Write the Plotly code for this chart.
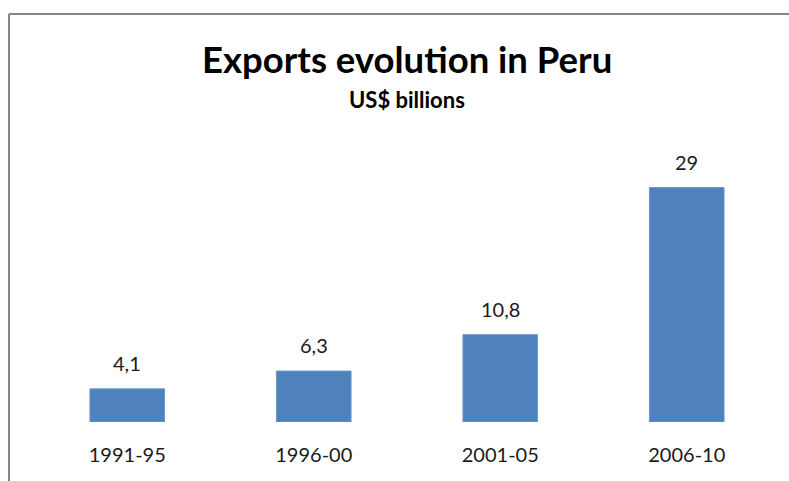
import plotly.graph_objects as go

# Exports by five-year period, US$ billions
periods = ["1991-95", "1996-00", "2001-05", "2006-10"]
exports = [4.1, 6.3, 10.8, 29]
value_labels = [f"{v:g}".replace(".", ",") for v in exports]

W, H = 789, 481
M_L, M_R, M_T, M_B = 34, 9, 139, 59
plot_w = W - M_L - M_R
plot_h = H - M_T - M_B

FONT = "Lato"
TEXT = "#1a1a1a"
BAR = "#4f81bd"
FRAME = "#868686"

fig = go.Figure(
    go.Bar(
        x=periods,
        y=exports,
        marker=dict(color=BAR, line=dict(color="#6b97cc", width=1)),
        width=0.4,
        hoverinfo="skip",
    )
)

# Value labels above each bar
for p, v, t in zip(periods, exports, value_labels):
    fig.add_annotation(
        x=p, y=v, text=t, showarrow=False, yanchor="bottom", yshift=12,
        font=dict(family=FONT, size=20, color=TEXT),
    )


def px_x(px):
    return (px - M_L) / plot_w


def px_y(py):
    return (H - M_B - py) / plot_h


# Title and subtitle
fig.add_annotation(
    xref="paper", yref="paper", x=0.5, y=px_y(59),
    text="<b>Exports evolution in Peru</b>", showarrow=False, yanchor="middle",
    font=dict(family=FONT, size=36.5, color="#000000"),
)
fig.add_annotation(
    xref="paper", yref="paper", x=0.5, y=px_y(99),
    text="<b>US$ billions</b>", showarrow=False, yanchor="middle",
    font=dict(family=FONT, size=22, color="#000000"),
)

# Chart frame (top and left edges)
fig.add_shape(type="line", xref="paper", yref="paper",
              x0=px_x(9), x1=px_x(W + 5), y0=px_y(14), y1=px_y(14),
              line=dict(color=FRAME, width=2))
fig.add_shape(type="line", xref="paper", yref="paper",
              x0=px_x(9), x1=px_x(9), y0=px_y(14), y1=px_y(H + 5),
              line=dict(color=FRAME, width=2))

fig.update_layout(
    width=W, height=H,
    margin=dict(l=M_L, r=M_R, t=M_T, b=M_B),
    paper_bgcolor="white", plot_bgcolor="white",
    showlegend=False,
    font=dict(family=FONT, color=TEXT),
    xaxis=dict(
        type="category",
        showline=False, showgrid=False, zeroline=False, ticks="",
        tickfont=dict(family=FONT, size=20, color=TEXT),
        ticklabelstandoff=19,
    ),
    yaxis=dict(
        range=[0, 35], visible=False, showgrid=False, zeroline=False,
    ),
)

fig.write_html("out.html")
